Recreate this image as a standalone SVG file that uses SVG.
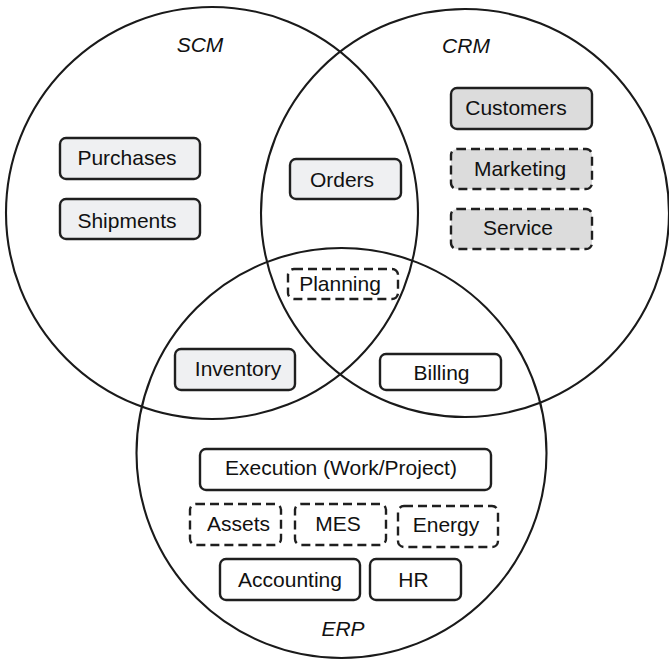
<svg xmlns="http://www.w3.org/2000/svg" width="669" height="660" viewBox="0 0 669 660">
<style>
.set{fill:none;stroke:#1a1a1a;stroke-width:2.1}
.box{stroke:#1f1f1f;stroke-width:2.4}
.dash{stroke-dasharray:9 5}
.lt{fill:#eff0f2}
.md{fill:#dcdcdc}
.wh{fill:#ffffff}
text{font-family:"Liberation Sans",Arial,sans-serif;font-size:21px;fill:#111;text-anchor:middle}
.lbl{font-style:italic}
</style>
<rect width="669" height="660" fill="#ffffff"/>
<g id="sets">
<circle id="SCM-set" class="set" cx="212" cy="213" r="206"/>
<circle id="CRM-set" class="set" cx="465" cy="213" r="204"/>
<circle id="ERP-set" class="set" cx="341.5" cy="453" r="205"/>
</g>
<g id="setlabels">
<text class="lbl" x="200" y="52">SCM</text>
<text class="lbl" x="466" y="53">CRM</text>
<text class="lbl" x="343" y="636">ERP</text>
</g>
<g id="purchases"><rect class="box lt" x="60" y="138" width="140" height="41" rx="6"/><text x="127" y="165">Purchases</text></g>
<g id="shipments"><rect class="box lt" x="60" y="199" width="140" height="40" rx="6"/><text x="127" y="228">Shipments</text></g>
<g id="orders"><rect class="box lt" x="290" y="159" width="111" height="40" rx="6"/><text x="342" y="187">Orders</text></g>
<g id="customers"><rect class="box md" x="451" y="88" width="141" height="41" rx="6"/><text x="516" y="115">Customers</text></g>
<g id="marketing"><rect class="box md dash" x="451" y="149" width="141" height="40" rx="6"/><text x="520" y="176">Marketing</text></g>
<g id="service"><rect class="box md dash" x="451" y="209" width="141" height="40" rx="6"/><text x="518" y="235">Service</text></g>
<g id="planning"><rect class="box wh dash" x="288" y="269" width="110" height="30" rx="6"/><text x="340" y="291">Planning</text></g>
<g id="inventory"><rect class="box lt" x="175" y="349" width="120" height="41" rx="6"/><text x="238" y="376">Inventory</text></g>
<g id="billing"><rect class="box wh" x="380" y="354" width="121" height="36" rx="6"/><text x="441.5" y="380">Billing</text></g>
<g id="execution"><rect class="box wh" x="200" y="449" width="291" height="41" rx="6"/><text x="341" y="475">Execution (Work/Project)</text></g>
<g id="assets"><rect class="box wh dash" x="190" y="504" width="91" height="41" rx="6"/><text x="238.5" y="531">Assets</text></g>
<g id="mes"><rect class="box wh dash" x="295" y="504" width="91" height="41" rx="6"/><text x="338" y="531">MES</text></g>
<g id="energy"><rect class="box wh dash" x="398" y="506" width="100" height="41" rx="6"/><text x="446" y="532">Energy</text></g>
<g id="accounting"><rect class="box wh" x="220" y="559" width="140" height="41" rx="6"/><text x="290" y="587">Accounting</text></g>
<g id="hr"><rect class="box wh" x="370" y="559" width="91" height="41" rx="6"/><text x="413.5" y="587">HR</text></g>
<g id="connectors"></g>
</svg>
